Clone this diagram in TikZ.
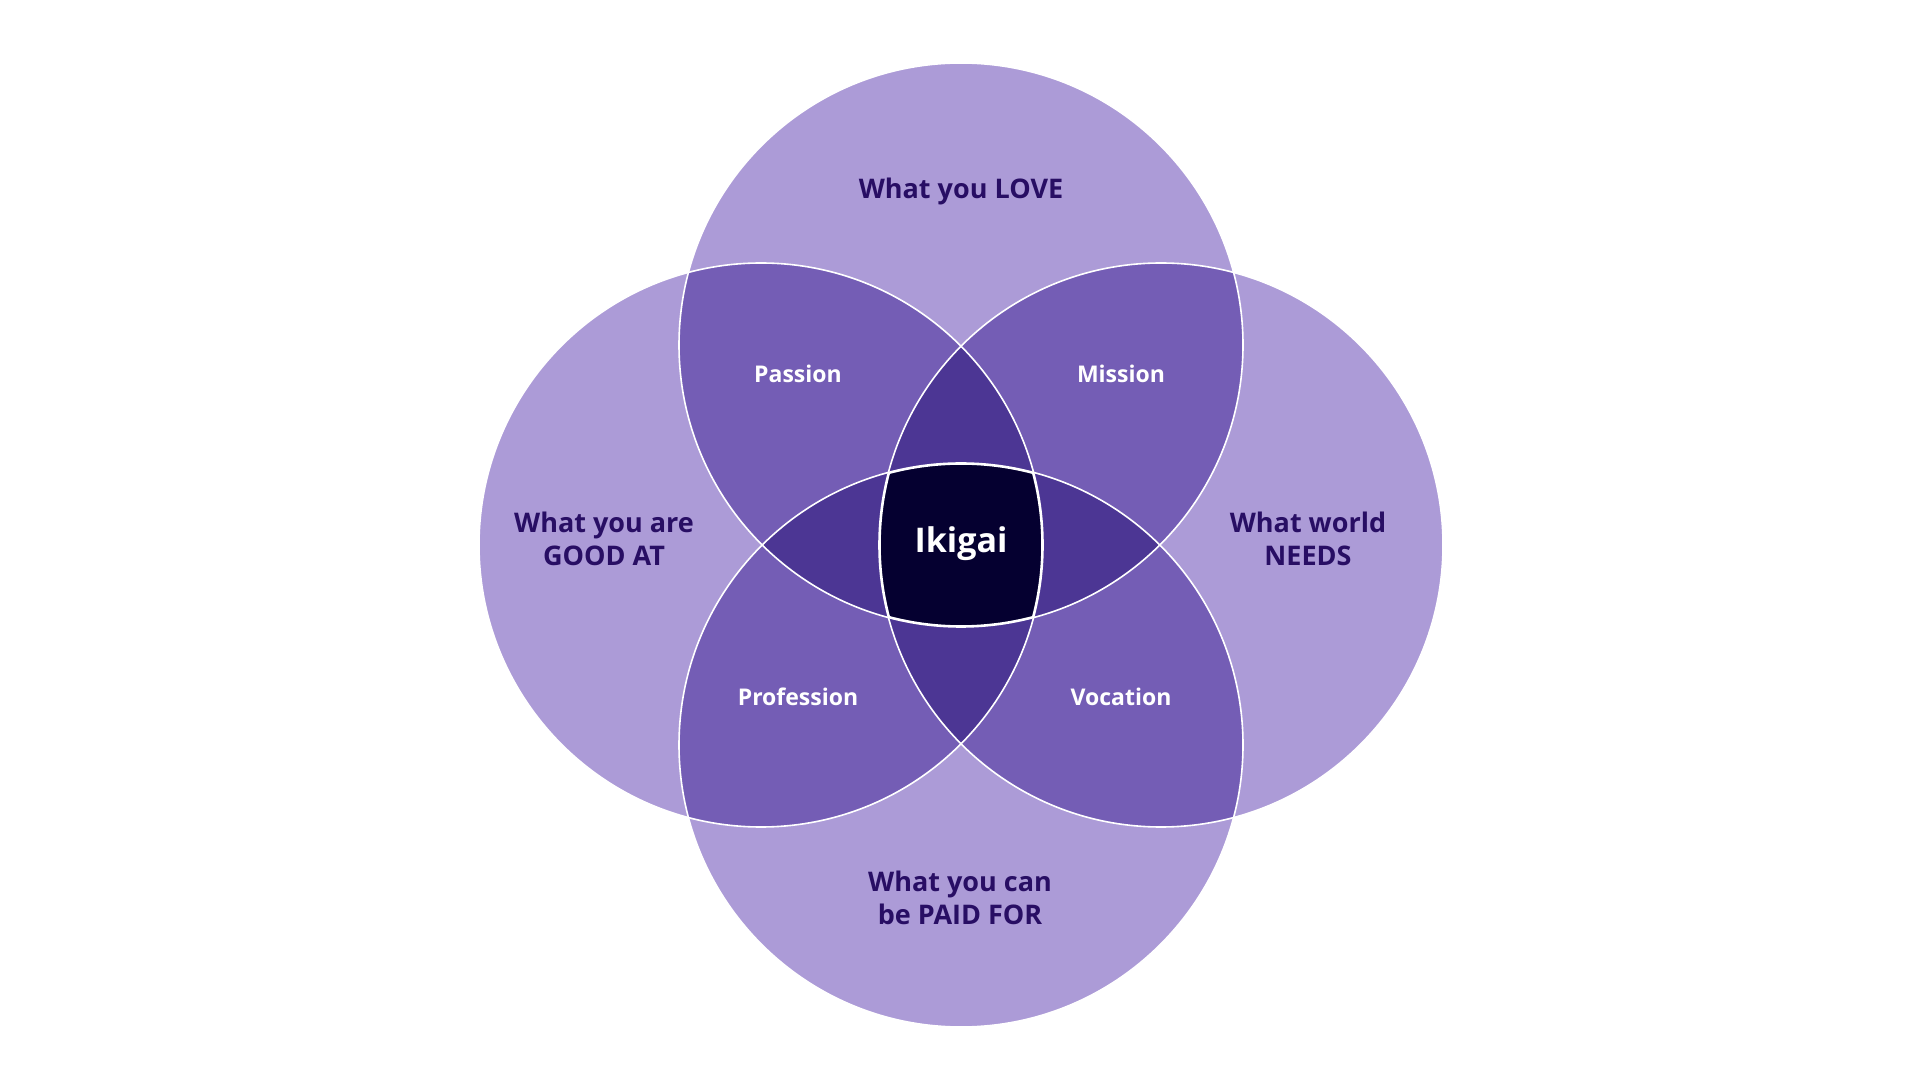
\documentclass[tikz,border=0pt]{standalone}
\usepackage{fontspec}
\setmainfont{Open Sans}
\definecolor{lightP}{RGB}{172,155,215}
\definecolor{midP}{RGB}{116,93,181}
\definecolor{darkP}{RGB}{76,54,148}
\definecolor{coreP}{RGB}{5,0,48}
\definecolor{labelP}{RGB}{40,14,100}
\tikzset{
  bigl/.style={text=labelP, font=\fontsize{27}{33}\selectfont\bfseries, align=center},
  midl/.style={text=white, font=\fontsize{23}{28}\selectfont\bfseries, align=center},
  corel/.style={text=white, font=\fontsize{34}{40}\selectfont\bfseries},
  ring/.style={draw=white, line width=1.6pt}
}
\def\cT{(961,735) circle (282)}
\def\cB{(961,335) circle (282)}
\def\cL{(761,535) circle (282)}
\def\cR{(1161,535) circle (282)}
\begin{document}
\begin{tikzpicture}[x=1pt,y=1pt]
\fill[white] (0,0) rectangle (1920,1080);
\useasboundingbox (0,0) rectangle (1920,1080);
% single circles
\fill[lightP] \cT; \fill[lightP] \cB; \fill[lightP] \cL; \fill[lightP] \cR;
% pairwise overlaps
\begin{scope}\clip \cT; \fill[midP] \cL; \fill[midP] \cR; \fill[midP] \cB; \end{scope}
\begin{scope}\clip \cB; \fill[midP] \cL; \fill[midP] \cR; \end{scope}
\begin{scope}\clip \cL; \fill[midP] \cR; \end{scope}
% triple overlaps
\begin{scope}\clip \cL; \clip \cR; \fill[darkP] \cT; \fill[darkP] \cB; \end{scope}
\begin{scope}\clip \cT; \clip \cB; \fill[darkP] \cL; \fill[darkP] \cR; \end{scope}
% all four
\begin{scope}\clip \cT; \clip \cB; \clip \cL; \fill[coreP] \cR; \end{scope}
% outlines
\draw[ring] \cT; \draw[ring] \cB; \draw[ring] \cL; \draw[ring] \cR;
\begin{scope}\clip \cT; \clip \cB; \clip \cL; \clip \cR;
  \draw[draw=white, line width=3.6pt] \cT; \draw[draw=white, line width=3.6pt] \cB;
  \draw[draw=white, line width=3.6pt] \cL; \draw[draw=white, line width=3.6pt] \cR;
\end{scope}
% labels
\node[bigl] (love) at (961,889) {What you LOVE};
\node[bigl] (good) at (604,541) {What you are\\GOOD AT};
\node[bigl] (needs) at (1308,541) {What world\\NEEDS};
\node[bigl] (paid) at (960,182) {What you can\\be PAID FOR};
\node[midl] (passion) at (798,706) {Passion};
\node[midl] (mission) at (1121,706) {Mission};
\node[midl] (profession) at (798,383) {Profession};
\node[midl] (vocation) at (1121,383) {Vocation};
\node[corel] (ikigai) at (961,536) {Ikigai};
\end{tikzpicture}
\end{document}
